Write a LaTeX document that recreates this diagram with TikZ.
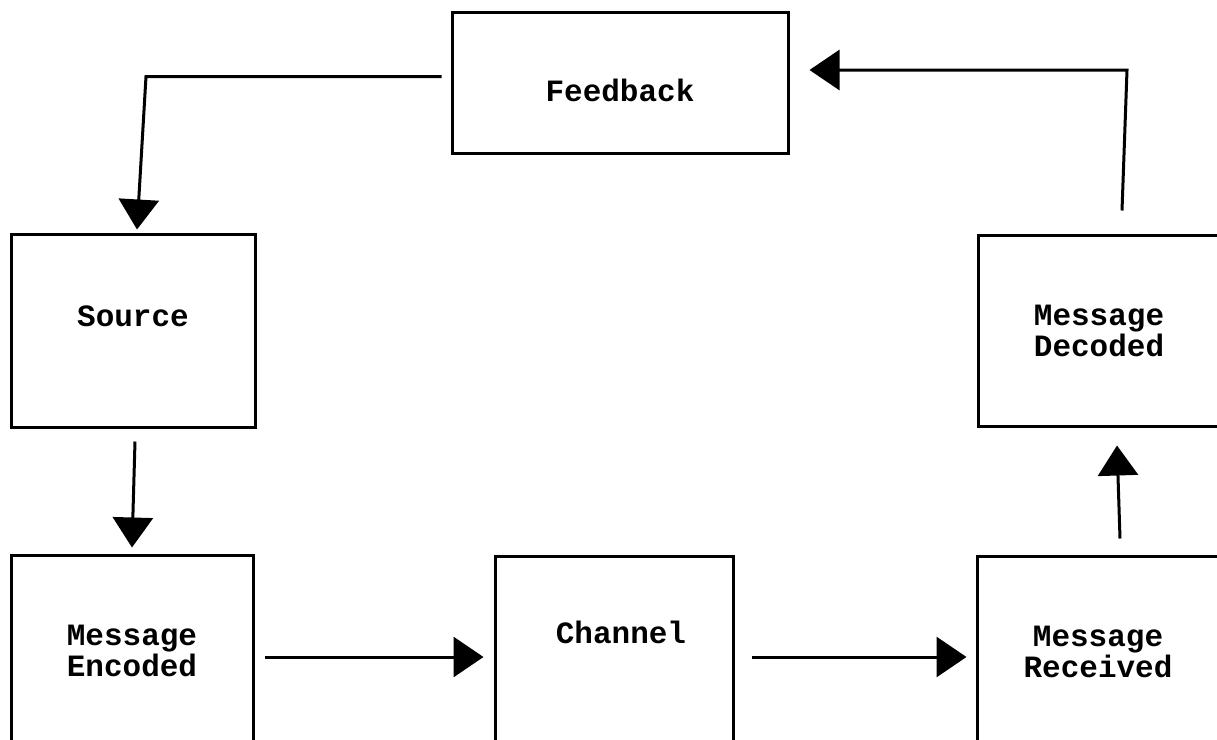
\documentclass[tikz,border=0pt]{standalone}
\usepackage{fontspec}
\setmonofont{Liberation Mono}
\usetikzlibrary{arrows.meta}
\tikzset{
  box/.style={draw=black, line width=3pt, fill=white, inner sep=0pt},
  txt/.style={font=\ttfamily\bfseries\fontsize{31}{31}\selectfont, align=center, inner sep=0pt},
  arr/.style={draw=black, line width=3pt, -{Triangle[length=30pt,width=40pt]}}
}
\begin{document}
\begin{tikzpicture}[x=1pt,y=-1pt]
\useasboundingbox (0,0) rectangle (1217,739);
\clip (0,0) rectangle (1217,739);
\fill[white] (0,0) rectangle (1217,739);
% boxes
\node[box, minimum width=336pt, minimum height=141pt,
      label={[txt, yshift=-8pt]center:Feedback}] (fb) at (620,82.5) {};
\node[box, minimum width=244pt, minimum height=193pt,
      label={[txt, yshift=14pt]center:Source}] (src) at (133,330.5) {};
\node[box, minimum width=242pt, minimum height=191pt,
      label={[txt]center:Message\\Decoded}] (dec) at (1099,330.5) {};
\node[box, minimum width=242pt, minimum height=192pt,
      label={[txt]center:Message\\Encoded}] (enc) at (132,651) {};
\node[box, minimum width=238pt, minimum height=192pt,
      label={[txt, xshift=7pt, yshift=20pt]center:Channel}] (chn) at (614,652) {};
\node[box, minimum width=242pt, minimum height=192pt,
      label={[txt]center:Message\\Received}] (rcv) at (1098,652) {};
% corner points
\coordinate (c1) at (146,76.5);
\coordinate (c2) at (1127,70);
% connectors
\draw[arr] ([xshift=-9pt,yshift=6pt]fb.west) -- (c1) -- ([xshift=4pt,yshift=3pt]src.north);
\draw[arr] ([xshift=2pt,yshift=-13pt]src.south) -- ([yshift=6pt]enc.north);
\draw[arr] ([xshift=10pt,yshift=-6pt]enc.east) -- ([xshift=-10pt,yshift=-5pt]chn.west);
\draw[arr] ([xshift=17pt,yshift=-5pt]chn.east) -- ([xshift=-9pt,yshift=-5pt]rcv.west);
\draw[arr] ([xshift=22pt,yshift=16pt]rcv.north) -- ([xshift=18pt,yshift=-18pt]dec.south);
\draw[arr] ([xshift=23pt,yshift=23pt]dec.north) -- (c2) -- ([xshift=20pt,yshift=12.5pt]fb.east);
\end{tikzpicture}
\end{document}
